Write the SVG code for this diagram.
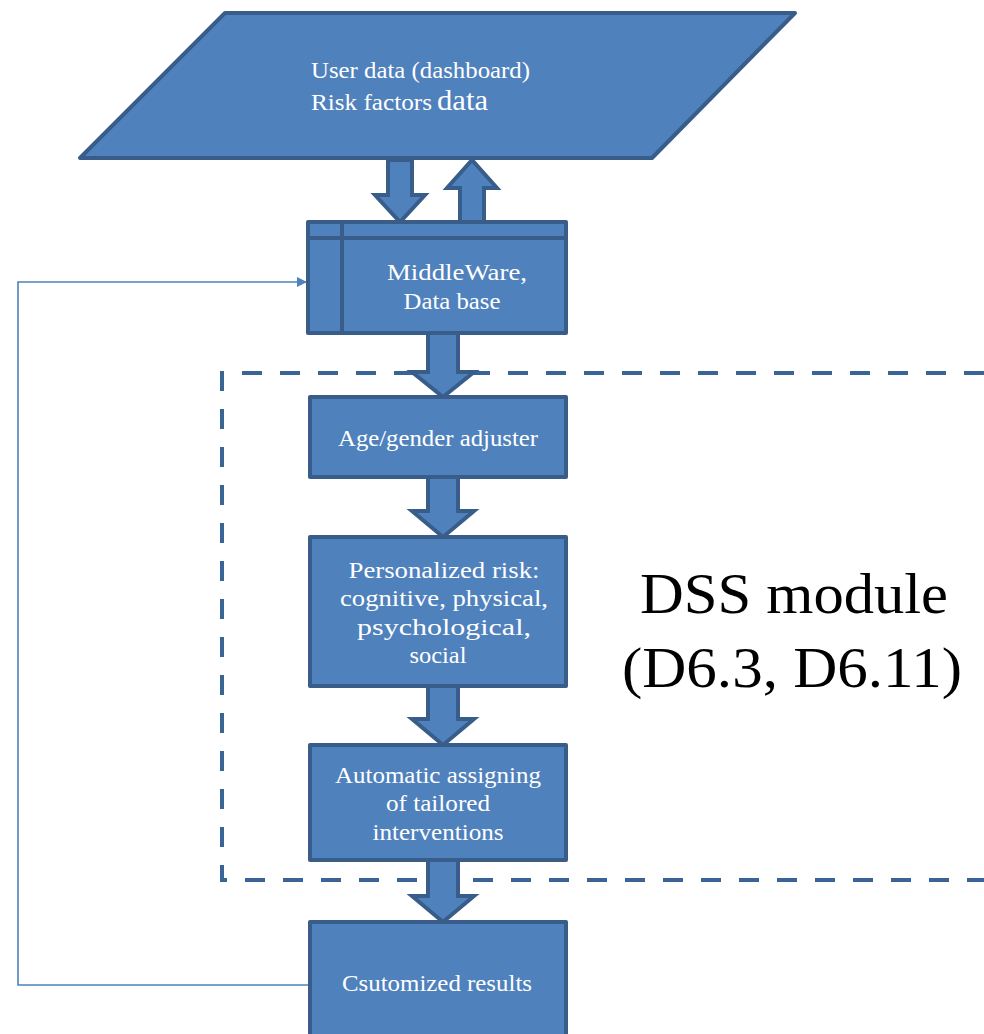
<svg xmlns="http://www.w3.org/2000/svg" width="984" height="1034" viewBox="0 0 984 1034">
<style>
.box{fill:#4F81BD;stroke:#385D8A;stroke-width:4;stroke-linejoin:round}
.arr{fill:#4F81BD;stroke:#385D8A;stroke-width:4;stroke-linejoin:miter}
.t{font-family:"Liberation Serif",serif;fill:#FFFFFF;font-size:24px;text-anchor:middle}
.big{font-family:"Liberation Serif",serif;fill:#000000;font-size:58px;text-anchor:middle}
</style>
<defs>
<marker id="ah" markerWidth="10" markerHeight="10" refX="9" refY="5" orient="auto" markerUnits="userSpaceOnUse">
<path d="M0,0 L10,5 L0,10 z" fill="#4F81BD"/>
</marker>
</defs>
<rect x="0" y="0" width="984" height="1034" fill="#FFFFFF"/>
<g id="dss-boundary">
<path d="M984,373 L222,373 L222,880 L984,880" fill="none" stroke="#3B6496" stroke-width="4" stroke-dasharray="20,18"/>
</g>
<g id="connectors">
<path d="M310,985 L18,985 L18,282 L306,282" fill="none" stroke="#4F81BD" stroke-width="1.6" marker-end="url(#ah)"/>
<path class="arr" d="M388,160 L412,160 L412,195 L425,195 L400,222 L375,195 L388,195 Z"/>
<path class="arr" d="M460,222 L484,222 L484,188 L497,188 L472,160 L447,188 L460,188 Z"/>
<path class="arr" d="M428,333 L458,333 L458,372 L474,372 L443,397 L412,372 L428,372 Z"/>
<path class="arr" d="M428,477 L458,477 L458,511 L474,511 L443,537 L412,511 L428,511 Z"/>
<path class="arr" d="M428,686 L458,686 L458,719 L474,719 L443,745 L412,719 L428,719 Z"/>
<path class="arr" d="M428,860 L458,860 L458,896 L474,896 L443,922 L412,896 L428,896 Z"/>
</g>
<g id="user-data">
<path class="box" d="M225,13 L795,13 L652,158 L80,158 Z"/>
<text class="t" x="311" y="78" style="text-anchor:start" font-size="24" textLength="219" lengthAdjust="spacingAndGlyphs">User data (dashboard)</text>
<text class="t" x="311" y="110" style="text-anchor:start" font-size="24"><tspan textLength="121" lengthAdjust="spacingAndGlyphs">Risk factors</tspan><tspan x="437" font-size="29" textLength="51" lengthAdjust="spacingAndGlyphs">data</tspan></text>
</g>
<g id="middleware">
<rect class="box" x="308" y="222" width="258" height="111"/>
<line x1="308" y1="238" x2="566" y2="238" stroke="#385D8A" stroke-width="4"/>
<line x1="342" y1="222" x2="342" y2="333" stroke="#385D8A" stroke-width="4"/>
<text class="t" x="457" y="280" textLength="140" lengthAdjust="spacingAndGlyphs">MiddleWare,</text>
<text class="t" x="452" y="309" textLength="97" lengthAdjust="spacingAndGlyphs">Data base</text>
</g>
<g id="age-gender">
<rect class="box" x="310" y="397" width="256" height="80"/>
<text class="t" x="438" y="446" textLength="200" lengthAdjust="spacingAndGlyphs">Age/gender adjuster</text>
</g>
<g id="personalized-risk">
<rect class="box" x="310" y="537" width="256" height="149"/>
<text class="t" x="444" y="578" textLength="191" lengthAdjust="spacingAndGlyphs">Personalized risk:</text>
<text class="t" x="444" y="606" textLength="208" lengthAdjust="spacingAndGlyphs">cognitive, physical,</text>
<text class="t" x="444" y="635" textLength="174" lengthAdjust="spacingAndGlyphs">psychological,</text>
<text class="t" x="438" y="663" textLength="57" lengthAdjust="spacingAndGlyphs">social</text>
</g>
<g id="automatic">
<rect class="box" x="310" y="745" width="256" height="115"/>
<text class="t" x="438" y="783" textLength="206" lengthAdjust="spacingAndGlyphs">Automatic assigning</text>
<text class="t" x="438" y="811" textLength="104" lengthAdjust="spacingAndGlyphs">of tailored</text>
<text class="t" x="438" y="840" textLength="131" lengthAdjust="spacingAndGlyphs">interventions</text>
</g>
<g id="customized">
<rect class="box" x="310" y="922" width="256" height="130"/>
<text class="t" x="437" y="991" textLength="190" lengthAdjust="spacingAndGlyphs">Csutomized results</text>
</g>
<g id="dss-label">
<text class="big" x="794" y="613" textLength="308" lengthAdjust="spacingAndGlyphs">DSS module</text>
<text class="big" x="792" y="687" textLength="340" lengthAdjust="spacingAndGlyphs">(D6.3, D6.11)</text>
</g>
</svg>
